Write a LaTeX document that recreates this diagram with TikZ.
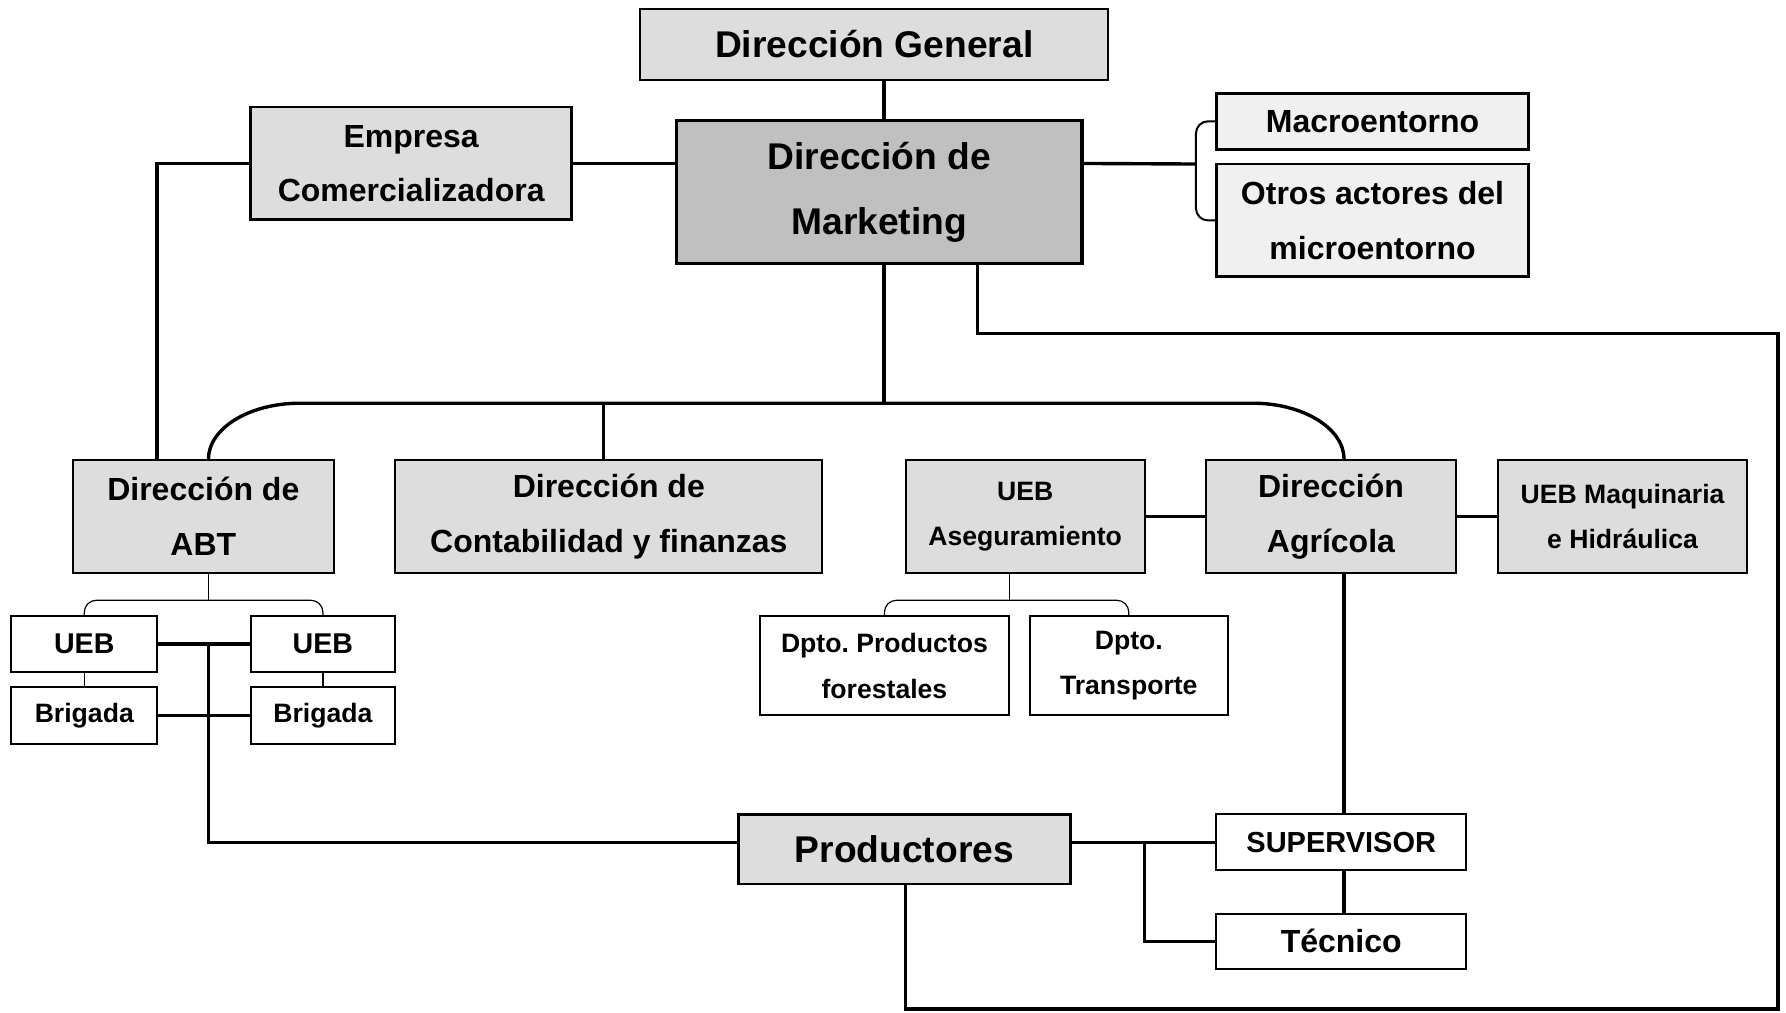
\documentclass[tikz,border=0pt]{standalone}
\usepackage{fontspec}
\setmainfont{Liberation Sans}
\frenchspacing
\definecolor{gfill}{HTML}{DDDDDD}
\definecolor{gdark}{HTML}{C0C0C0}
\definecolor{glight}{HTML}{F0F0F0}
\newcommand\fA{\fontsize{18.6}{32.5}\selectfont\bfseries}
\newcommand\fB{\fontsize{16}{27.3}\selectfont\bfseries}
\newcommand\fC{\fontsize{13.3}{22.8}\selectfont\bfseries}
\newcommand\fD{\fontsize{14.3}{22.8}\selectfont\bfseries}
\newcommand\fE{\fontsize{14.5}{20}\selectfont\bfseries}
% \bx{name}{x1}{y1}{x2}{y2}{style}{text}
\newcommand\bx[7]{\node[#6, minimum width={(#4-#2)*0.5696pt}, minimum height={(#5-#3)*0.5696pt}] (#1) at ({(#2+#4)/2},{(#3+#5)/2}) {#7};}
\begin{document}
\begin{tikzpicture}[x=0.5696pt,y=-0.5696pt,
  box/.style={draw, inner sep=0pt, align=center, line width=1pt},
  gbox/.style={box, fill=gfill},
  conn/.style={line width=1.7pt},
  thinln/.style={line width=0.6pt}]
\useasboundingbox (0,0) rectangle (1568,889);
% nodes
\bx{dg}{562}{8}{973}{70}{gbox, font=\fA}{Dirección General}
\bx{mk}{594}{106}{950}{231}{box, fill=gdark, line width=1.6pt, font=\fA}{Dirección de\\Marketing}
\bx{emp}{220}{94}{502}{193}{gbox, line width=1.4pt, font=\fB}{Empresa\\Comercializadora}
\bx{macro}{1068}{82}{1342}{131}{box, fill=glight, line width=1.4pt, font=\fB}{Macroentorno}
\bx{otros}{1068}{144}{1342}{243}{box, fill=glight, line width=1.4pt, font=\fB}{Otros actores del\\microentorno}
\bx{abt}{64}{404}{293}{503}{gbox, font=\fB}{Dirección de\\ABT}
\bx{cont}{347}{404}{722}{503}{gbox, font=\fB}{Dirección de\\Contabilidad y finanzas}
\bx{aseg}{795}{404}{1005}{503}{gbox, font=\fC}{UEB\\Aseguramiento}
\bx{agr}{1059}{404}{1278}{503}{gbox, font=\fB}{Dirección\\Agrícola}
\bx{maq}{1315}{404}{1534}{503}{gbox, font=\fC}{UEB Maquinaria\\e Hidráulica}
\bx{uebA}{10}{541}{138}{590}{box, font=\fD}{UEB}
\bx{uebB}{220}{541}{347}{590}{box, font=\fD}{UEB}
\bx{brigA}{10}{603}{138}{653}{box, font=\fC}{Brigada}
\bx{brigB}{220}{603}{347}{653}{box, font=\fC}{Brigada}
\bx{forest}{667}{541}{886}{628}{box, font=\fC}{Dpto. Productos\\forestales}
\bx{transp}{904}{541}{1078}{628}{box, font=\fC}{Dpto.\\Transporte}
\bx{prod}{648}{715}{940}{776}{gbox, line width=1.4pt, font=\fA}{Productores}
\bx{sup}{1068}{715}{1287}{764}{box, font=\fE}{SUPERVISOR}
\bx{tec}{1068}{802}{1287}{851}{box, font=\fB}{Técnico}
\coordinate (bus) at (776,354);
% connectors
\draw[conn] (776,0 |- dg.south) -- (776,0 |- mk.north);
\draw[conn] (emp.east) -- (emp.east -| mk.west);
\draw[conn] (emp.west) -| (138,0 |- abt.north);
\draw[conn] (mk.east |- emp.east) -- (1050,144);
\draw[line width=1pt, rounded corners=6pt] (macro.west) -| (1050,150) |- (otros.west);
\draw[conn] (776,0 |- mk.south) -- (bus);
\draw[conn] (183,0 |- abt.north) .. controls (183,376) and (219,354) .. (263,354) -- (1100,354) .. controls (1144,354) and (1180,376) .. (1180,0 |- agr.north);
\draw[conn] (530,0 |- bus) -- (530,0 |- cont.north);
\draw[conn] (858,0 |- mk.south) |- (1561,293) |- (795,886) -- (795,0 |- prod.south);
% ABT subtree
\draw[thinln] (183,0 |- abt.south) -- (183,527);
\draw[thinln, rounded corners=6pt] (uebA.north) |- (183,527) -| (uebB.north);
\draw[thinln] (uebA.south) -- (brigA.north);
\draw[thinln] (uebB.south) -- (brigB.north);
\draw[conn] (uebA.east) -- (uebB.west);
\draw[conn] (brigA.east) -- (brigB.west);
\draw[conn] (183,0 |- uebA.east) |- (prod.west |- sup.west);
% Aseguramiento subtree
\draw[thinln] (886,0 |- aseg.south) -- (886,527);
\draw[thinln, rounded corners=6pt] (forest.north) |- (886,527) -| (transp.north);
\draw[conn] (aseg.east) -- (agr.west);
\draw[conn] (agr.east) -- (maq.west);
% Agricola / productores
\draw[conn] (1180,0 |- agr.south) -- (1180,0 |- sup.north);
\draw[conn] (sup.west) -- (prod.east |- sup.west);
\draw[conn] (1005,0 |- sup.west) |- (tec.west);
\draw[conn] (1180,0 |- sup.south) -- (1180,0 |- tec.north);
\end{tikzpicture}
\end{document}
